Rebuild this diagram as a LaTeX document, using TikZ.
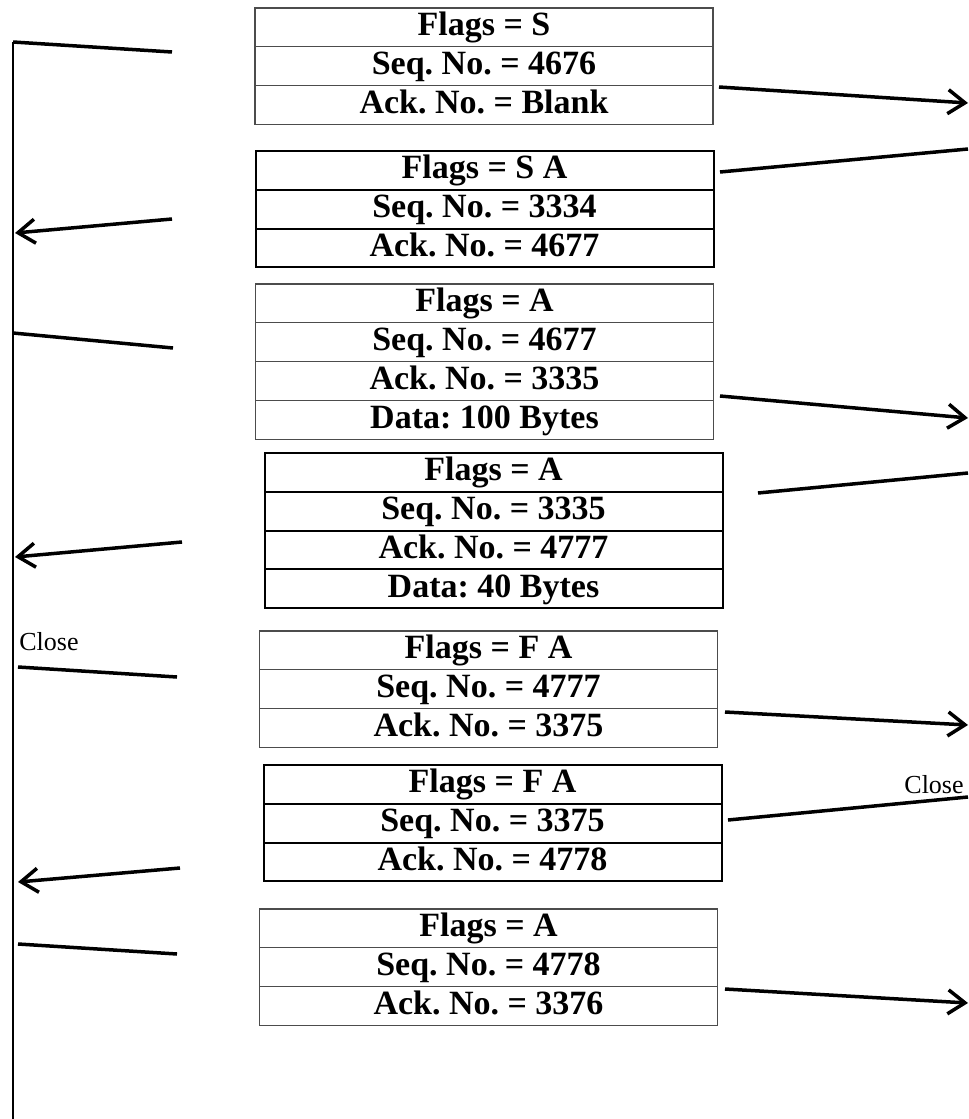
\documentclass[tikz,border=0pt]{standalone}
\usepackage{fontspec}
\setmainfont{Liberation Serif}
\usepackage{tikz}
\usetikzlibrary{arrows.meta,positioning}
\frenchspacing

\begin{document}
\begin{tikzpicture}[x=0.5pt, y=-0.5pt, >={Straight Barb[length=8.5pt,width=12pt]},
  cell/.style={draw=black!70, line width=0.6pt, minimum width=229pt, minimum height=19.4pt,
    inner sep=0pt, outer sep=0pt, text height=11.8pt, text depth=3.4pt,
    font=\fontsize{17}{19}\selectfont\bfseries},
  cellk/.style={cell, draw=black, line width=1pt},
  seg/.style={line width=1.75pt},
  note/.style={font=\fontsize{13}{15}\selectfont, inner sep=0pt, anchor=base west}]
\useasboundingbox (0,0) rectangle (969,1119);
% --- SYN ---
\node[cell] (p1a) at (484,27.4) {Flags = S};
\node[cell,below=0pt of p1a] (p1b) {Seq. No. = 4676};
\node[cell,below=0pt of p1b] (p1c) {Ack. No. = Blank};
% --- SYN ACK ---
\node[cellk] (p2a) at (484.5,170.4) {Flags = S A};
\node[cellk,below=0pt of p2a] (p2b) {Seq. No. = 3334};
\node[cellk,below=0pt of p2b] (p2c) {Ack. No. = 4677};
% --- ACK + data ---
\node[cell] (p3a) at (484.5,303.4) {Flags = A};
\node[cell,below=0pt of p3a] (p3b) {Seq. No. = 4677};
\node[cell,below=0pt of p3b] (p3c) {Ack. No. = 3335};
\node[cell,below=0pt of p3c] (p3d) {Data: 100 Bytes};
% --- reply data ---
\node[cellk] (p4a) at (493.5,472.4) {Flags = A};
\node[cellk,below=0pt of p4a] (p4b) {Seq. No. = 3335};
\node[cellk,below=0pt of p4b] (p4c) {Ack. No. = 4777};
\node[cellk,below=0pt of p4c] (p4d) {Data: 40 Bytes};
% --- FIN ---
\node[cell] (p5a) at (488.5,650.4) {Flags = F A};
\node[cell,below=0pt of p5a] (p5b) {Seq. No. = 4777};
\node[cell,below=0pt of p5b] (p5c) {Ack. No. = 3375};
% --- FIN reply ---
\node[cellk] (p6a) at (492.5,784.4) {Flags = F A};
\node[cellk,below=0pt of p6a] (p6b) {Seq. No. = 3375};
\node[cellk,below=0pt of p6b] (p6c) {Ack. No. = 4778};
% --- last ACK ---
\node[cell] (p7a) at (488.5,928.4) {Flags = A};
\node[cell,below=0pt of p7a] (p7b) {Seq. No. = 4778};
\node[cell,below=0pt of p7b] (p7c) {Ack. No. = 3376};
% close labels
\node[note] (cls1) at (19,650) {Close};
\node[note] (cls2) at (904,793) {Close};
% --- left host ---
\coordinate (top) at (13,42);
\coordinate (bot) at (13,1119);
\draw[line width=1.35pt] (top) -- (bot);
\path (172,52) coordinate (l1)
      (172,219) coordinate (l2s) (15,233) coordinate (l2e)
      (13,333) coordinate (l3s) (173,348) coordinate (l3e)
      (182,542) coordinate (l4s) (15,557) coordinate (l4e)
      (18,667) coordinate (l5s) (177,677) coordinate (l5e)
      (180,868) coordinate (l6s) (18,882) coordinate (l6e)
      (18,944) coordinate (l7s) (177,954) coordinate (l7e);
\draw[seg] (top) -- (l1);
\draw[seg,->] (l2s) -- (l2e);
\draw[seg] (l3s) -- (l3e);
\draw[seg,->] (l4s) -- (l4e);
\draw[seg] (l5s) -- (l5e);
\draw[seg,->] (l6s) -- (l6e);
\draw[seg] (l7s) -- (l7e);
% --- right host ---
\path (719,87) coordinate (r1s) (968,103) coordinate (r1e)
      (968,149) coordinate (r2s) (720,172) coordinate (r2e)
      (720,396) coordinate (r3s) (968,418) coordinate (r3e)
      (968,473) coordinate (r4s) (758,493) coordinate (r4e)
      (725,712) coordinate (r5s) (968,725) coordinate (r5e)
      (968,797) coordinate (r6s) (728,820) coordinate (r6e)
      (725,989) coordinate (r7s) (968,1003) coordinate (r7e);
\draw[seg,->] (r1s) -- (r1e);
\draw[seg] (r2s) -- (r2e);
\draw[seg,->] (r3s) -- (r3e);
\draw[seg] (r4s) -- (r4e);
\draw[seg,->] (r5s) -- (r5e);
\draw[seg] (r6s) -- (r6e);
\draw[seg,->] (r7s) -- (r7e);
\end{tikzpicture}
\end{document}
